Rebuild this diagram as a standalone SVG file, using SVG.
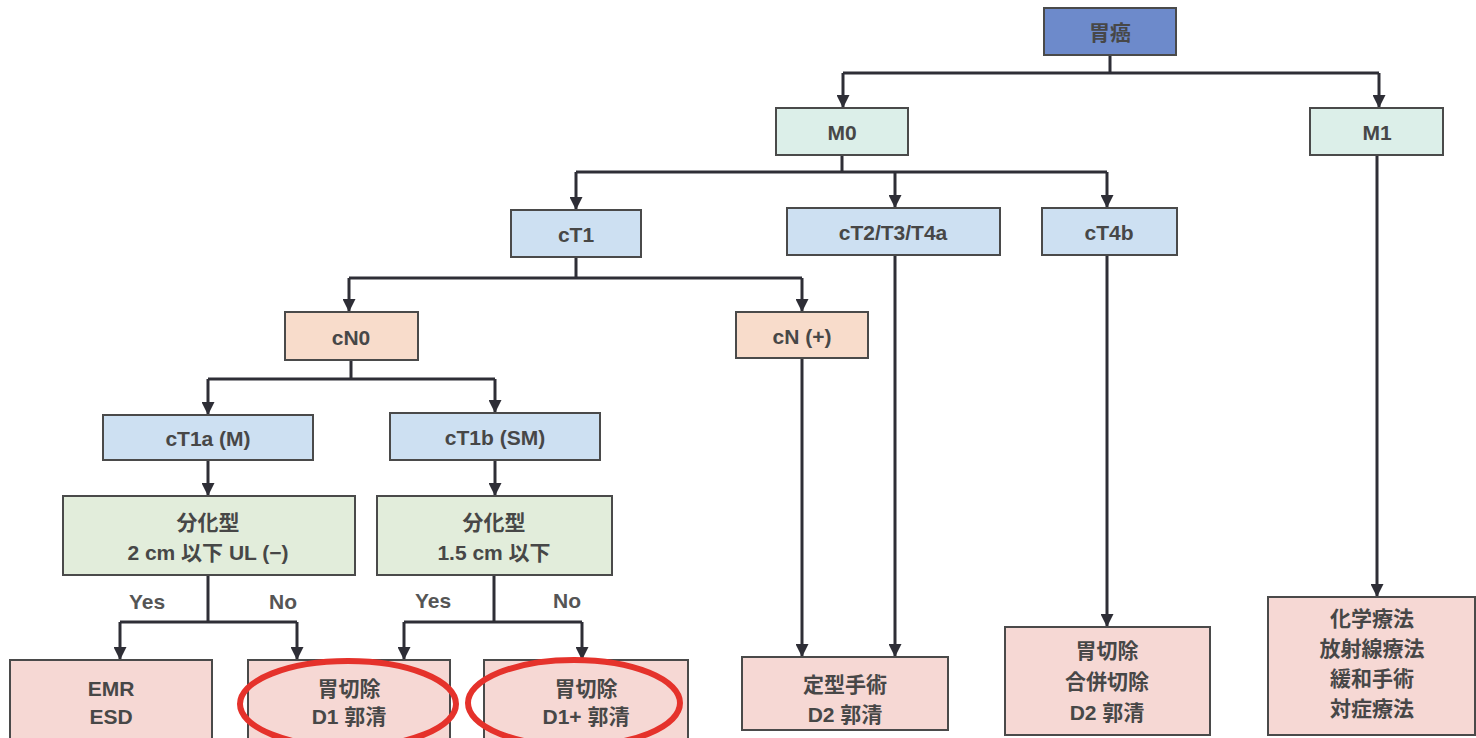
<svg xmlns="http://www.w3.org/2000/svg" width="1476" height="738" viewBox="0 0 1476 738">
<defs>
<marker id="ah" markerUnits="userSpaceOnUse" markerWidth="13" markerHeight="13" viewBox="0 0 13 13" refX="13" refY="6.5" orient="auto">
<path d="M0,0 L13,6.5 L0,13 Z" fill="#2e2e36"/>
</marker>
<style>
.box{stroke:#4a4a4a;stroke-width:2}
.root{fill:#6d8acb}
.m{fill:#dcefe9}
.t{fill:#cde0f2}
.n{fill:#f8dccb}
.g{fill:#e2eddb}
.r{fill:#f6d8d4}
.ln{stroke:#2e2e36;stroke-width:3;fill:none}
.ar{stroke:#2e2e36;stroke-width:3;fill:none}
text{font-family:"Liberation Sans","Noto Sans CJK JP",sans-serif;font-weight:bold;font-size:21px;fill:#474747;text-anchor:middle;dominant-baseline:central}
.lab{font-size:21px;fill:#555}
.ring{fill:none;stroke:#e5322b;stroke-width:6}
</style>
</defs>
<rect width="1476" height="738" fill="#ffffff"/>
<g id="connectors">
<path class="ln" d="M1110,55 V73 M843,73 H1379 M842,155 V172 M576,172 H1107 M576,257 V278 M349,278 H802 M351,360 V379 M208,379 H495 M208,575 V622 M120,622 H297 M494,575 V622 M404,622 H582"/>
<g marker-end="url(#ah)">
<path class="ar" d="M843,73 V108"/>
<path class="ar" d="M1379,73 V108"/>
<path class="ar" d="M576,172 V210"/>
<path class="ar" d="M895,172 V208"/>
<path class="ar" d="M1107,172 V208"/>
<path class="ar" d="M349,278 V312"/>
<path class="ar" d="M802,278 V312"/>
<path class="ar" d="M208,379 V415"/>
<path class="ar" d="M495,379 V413"/>
<path class="ar" d="M208,460 V496"/>
<path class="ar" d="M495,460 V496"/>
<path class="ar" d="M120,622 V660"/>
<path class="ar" d="M297,622 V660"/>
<path class="ar" d="M404,622 V660"/>
<path class="ar" d="M582,622 V660"/>
<path class="ar" d="M802,358 V657"/>
<path class="ar" d="M895,255 V657"/>
<path class="ar" d="M1107,255 V627"/>
<path class="ar" d="M1377,155 V597"/>
</g>
<text class="lab" x="147" y="601">Yes</text>
<text class="lab" x="283" y="601">No</text>
<text class="lab" x="433" y="600">Yes</text>
<text class="lab" x="567" y="600">No</text>
</g>
<g id="n-root"><rect class="box root" x="1044" y="8" width="132" height="47"/><text x="1110" y="32" fill="#3a3f55">胃癌</text></g>
<g id="n-m0"><rect class="box m" x="776" y="108" width="132" height="47"/><text x="842" y="132">M0</text></g>
<g id="n-m1"><rect class="box m" x="1310" y="108" width="133" height="47"/><text x="1377" y="132">M1</text></g>
<g id="n-ct1"><rect class="box t" x="511" y="210" width="130" height="47"/><text x="576" y="234">cT1</text></g>
<g id="n-ct2"><rect class="box t" x="787" y="208" width="213" height="47"/><text x="893" y="232">cT2/T3/T4a</text></g>
<g id="n-ct4b"><rect class="box t" x="1042" y="208" width="135" height="47"/><text x="1109" y="232">cT4b</text></g>
<g id="n-cn0"><rect class="box n" x="285" y="312" width="133" height="48"/><text x="351" y="337">cN0</text></g>
<g id="n-cnp"><rect class="box n" x="736" y="312" width="132" height="46"/><text x="802" y="336">cN (+)</text></g>
<g id="n-ct1a"><rect class="box t" x="103" y="415" width="210" height="45"/><text x="208" y="438">cT1a (M)</text></g>
<g id="n-ct1b"><rect class="box t" x="390" y="413" width="210" height="47"/><text x="495" y="437">cT1b (SM)</text></g>
<g id="n-g1"><rect class="box g" x="63" y="496" width="292" height="79"/><text x="208" y="522">分化型</text><text x="208" y="552">2 cm 以下 UL (−)</text></g>
<g id="n-g2"><rect class="box g" x="377" y="496" width="235" height="79"/><text x="494" y="522">分化型</text><text x="494" y="552">1.5 cm 以下</text></g>
<g id="n-emr"><rect class="box r" x="10" y="660" width="202" height="80"/><text x="111" y="688">EMR</text><text x="111" y="716">ESD</text></g>
<g id="n-d1"><rect class="box r" x="248" y="660" width="202" height="80"/><text x="349" y="688">胃切除</text><text x="349" y="716">D1 郭清</text></g>
<g id="n-d1p"><rect class="box r" x="484" y="660" width="204" height="80"/><text x="586" y="688">胃切除</text><text x="586" y="716">D1+ 郭清</text></g>
<g id="n-d2"><rect class="box r" x="742" y="657" width="206" height="73"/><text x="845" y="684">定型手術</text><text x="845" y="714">D2 郭清</text></g>
<g id="n-comb"><rect class="box r" x="1005" y="627" width="205" height="108"/><text x="1107" y="650">胃切除</text><text x="1107" y="681">合併切除</text><text x="1107" y="712">D2 郭清</text></g>
<g id="n-chemo"><rect class="box r" x="1268" y="597" width="207" height="138"/><text x="1372" y="618">化学療法</text><text x="1372" y="648">放射線療法</text><text x="1372" y="678">緩和手術</text><text x="1372" y="708">対症療法</text></g>
<g id="highlights">
<ellipse class="ring" cx="348" cy="704" rx="108" ry="43"/>
<ellipse class="ring" cx="574" cy="703" rx="106" ry="43"/>
</g>
</svg>
